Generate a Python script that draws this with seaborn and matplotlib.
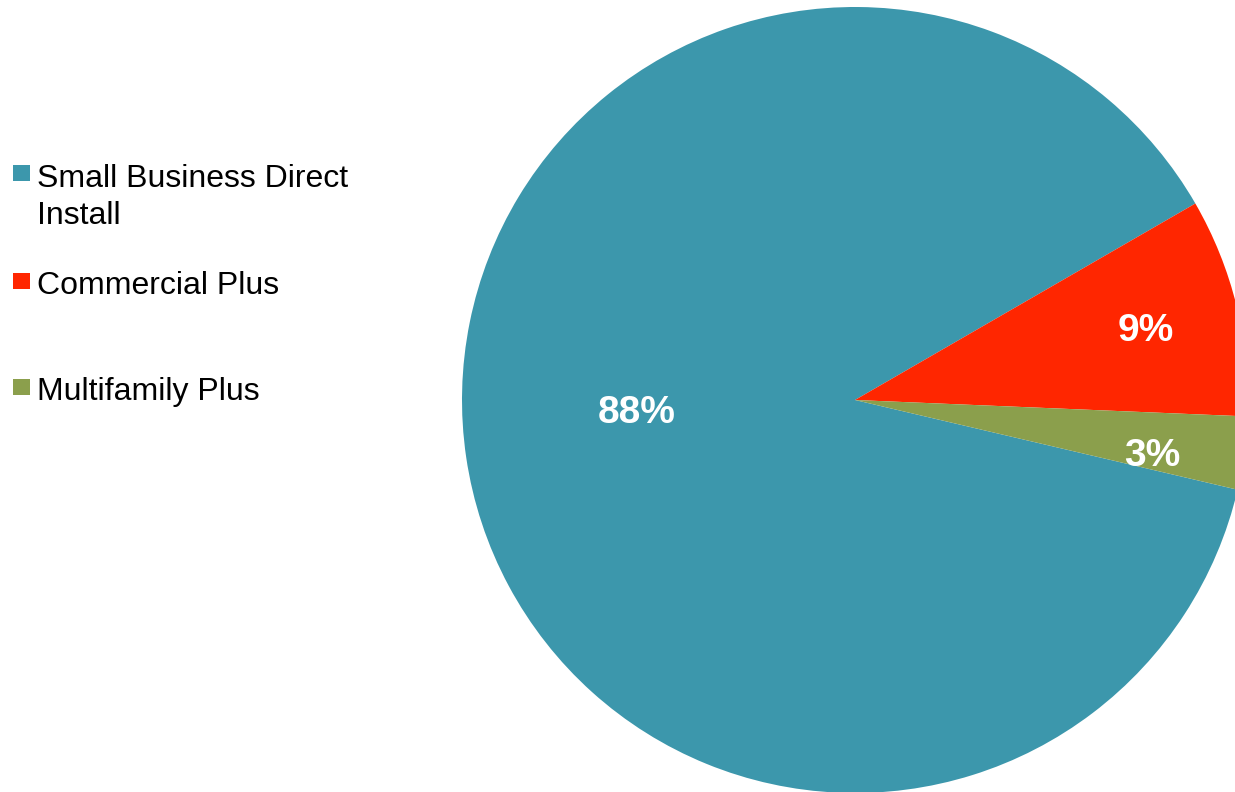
import matplotlib
matplotlib.use("Agg")
import matplotlib.pyplot as plt
import seaborn as sns
import numpy as np

# Program share of savings
categories = ["Small Business Direct\nInstall", "Commercial Plus", "Multifamily Plus"]
shares = [88, 9, 3]
colors = ["#3C97AC", "#FF2600", "#8B9F4C"]
# label placement inside each wedge: (radius fraction, angle in degrees)
label_polar = [(0.556, 183.3), (0.76, 13.3), (0.77, -10.7)]

sns.set_theme(style="white")
plt.rcParams["font.family"] = ["Liberation Sans", "DejaVu Sans"]

W, H, DPI = 1235, 792, 100
fig = plt.figure(figsize=(W / DPI, H / DPI), dpi=DPI)
fig.patch.set_facecolor("white")

# Pie axes: radius 393 px, centre at (855, 400) px from top-left
R = 393.0
cx, cy = 855.0, 400.0
ax = fig.add_axes([0, 0, 1, 1])
wedges, texts, autotexts = ax.pie(
    shares,
    colors=colors,
    startangle=-13.2,
    counterclock=False,
    radius=1.0,
    autopct=lambda p: f"{p:.0f}%",
    pctdistance=0.6,
    wedgeprops=dict(linewidth=0),
    textprops=dict(color="white", fontsize=28, fontweight="bold"),
)
for t, (d, a) in zip(autotexts, label_polar):
    ang = np.deg2rad(a)
    t.set_position((d * np.cos(ang), d * np.sin(ang)))

ax.set_aspect("auto")
ax.set_xlim(-cx / R, (W - cx) / R)
ax.set_ylim(-(H - cy) / R, cy / R)
ax.axis("off")

# Legend: squares and labels placed in pixel space
def px(x, y):
    return x / W, 1 - y / H

legend_rows = [(165, 187), (273, 294), (379, 400)]
line_step = 37
for (top, base), lab, col in zip(legend_rows, categories, colors):
    x0, y0 = px(13, top + 16)
    fig.patches.append(plt.Rectangle((x0, y0), 17 / W, 16 / H,
                                     transform=fig.transFigure,
                                     facecolor=col, edgecolor="none"))
    for i, line in enumerate(lab.split("\n")):
        tx, ty = px(37, base + i * line_step)
        fig.text(tx, ty, line, fontsize=23, color="black", ha="left",
                 va="baseline")

fig.savefig("out.png", dpi=DPI, facecolor="white")
